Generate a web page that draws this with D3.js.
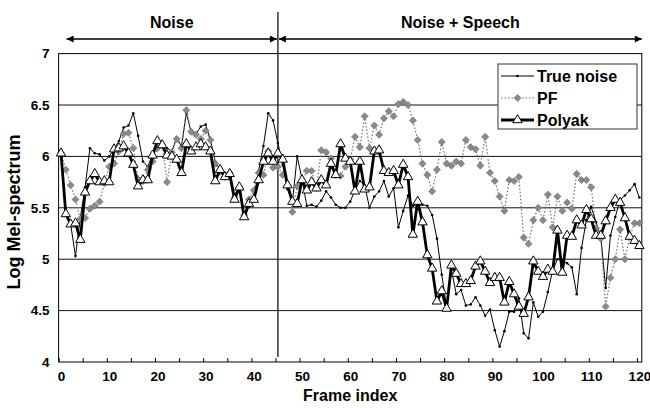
<!DOCTYPE html>
<html>
<head>
<meta charset="utf-8">
<script src="https://cdn.jsdelivr.net/npm/d3@7"></script>
<style>
  body { margin: 0; background: #fff; }
  svg { font-family: "Liberation Sans", Arial, sans-serif; font-weight: bold; }
</style>
</head>
<body>
<svg width="650" height="408"></svg>
<script>
const frames = d3.range(0, 121);

const trueNoise = [
  6.04, 5.46, 5.34, 5.03, 5.40, 5.70, 6.08, 6.03, 6.02, 5.96,
  6.00, 6.07, 6.15, 6.28, 6.30, 6.42, 6.20, 5.95, 5.90, 6.02,
  6.13, 6.13, 6.08, 6.05, 6.18, 6.10, 6.42, 6.24, 6.22, 6.29,
  6.31, 6.16, 5.95, 5.87, 5.81, 5.85, 5.62, 5.72, 5.43, 5.51,
  5.60, 5.86, 6.10, 6.42, 6.35, 6.13, 5.92, 5.68, 5.55, 6.00,
  5.78, 5.52, 5.53, 5.51, 5.57, 5.66, 5.60, 5.53, 5.50, 5.50,
  5.56, 5.67, 5.76, 5.72, 5.50, 5.61, 5.66, 5.76, 5.61, 5.69,
  5.31, 5.47, 5.62, 5.52, 5.52, 5.53, 5.52, 5.43, 5.20, 4.85,
  4.53, 4.90, 4.66, 4.70, 4.55, 4.56, 4.63, 4.55, 4.45, 4.51,
  4.31, 4.15, 4.30, 4.49, 4.49, 4.62, 4.28, 4.23, 4.58, 4.44,
  4.49, 4.68, 4.89, 5.00, 4.99, 4.96, 4.92, 4.66, 5.11, 5.38,
  5.51, 5.36, 5.22, 4.72, 5.23, 5.41, 5.58, 5.62, 5.67, 5.73,
  5.60
];

const pf = [
  6.03, 5.87, 5.72, 5.58, 5.39, 5.40, 5.49, 5.52, 5.56, 5.74,
  5.90, 5.93, 6.05, 6.22, 6.23, 6.08, 5.78, 5.76, 5.87, 5.95,
  6.08, 6.11, 5.75, 6.04, 6.17, 6.08, 6.45, 6.24, 6.21, 6.17,
  6.25, 6.16, 5.93, 5.85, 5.80, 5.84, 5.60, 5.70, 5.43, 5.58,
  5.67, 5.84, 5.82, 6.05, 5.89, 5.90, 5.82, 5.72, 5.46, 5.71,
  5.75, 5.86, 5.86, 5.69, 6.06, 6.04, 5.98, 5.82, 5.81, 5.90,
  5.97, 6.19, 6.09, 6.39, 6.08, 6.30, 6.21, 6.37, 6.44, 6.39,
  6.51, 6.53, 6.50, 6.35, 6.16, 5.93, 5.82, 5.66, 5.87, 6.14,
  5.93, 5.91, 5.95, 5.93, 6.16, 6.09, 6.07, 5.91, 6.19, 5.84,
  5.76, 5.61, 5.47, 5.77, 5.76, 5.80, 5.21, 5.15, 5.38, 5.50,
  5.38, 5.63, 5.31, 5.61, 5.47, 5.55, 5.49, 5.83, 5.77, 5.77,
  5.70, 5.30, 5.20, 4.54, 4.82, 5.00, 5.29, 5.00, 5.22, 5.35,
  5.35
];

const polyak = [
  6.03, 5.44, 5.34, 5.35, 5.19, 5.65, 5.76, 5.83, 5.75, 5.76,
  5.75, 6.07, 6.08, 6.10, 6.03, 5.92, 5.71, 5.77, 5.77, 6.01,
  6.15, 6.11, 6.01, 6.00, 5.97, 5.84, 6.12, 6.05, 6.09, 6.12,
  6.09, 6.05, 5.76, 5.87, 5.80, 5.83, 5.58, 5.70, 5.41, 5.54,
  5.58, 5.77, 5.95, 6.03, 5.95, 6.03, 5.97, 5.72, 5.56, 5.54,
  5.77, 5.67, 5.75, 5.69, 5.77, 5.72, 5.93, 5.82, 6.12, 5.98,
  5.95, 5.66, 5.95, 5.68, 5.70, 6.05, 6.06, 5.86, 5.84, 5.86,
  5.72, 5.92, 5.80, 5.24, 5.56, 5.36, 5.04, 4.91, 4.59, 4.69,
  4.52, 4.94, 4.86, 4.76, 4.76, 4.79, 4.93, 4.98, 4.88, 4.77,
  4.82, 4.82, 4.58, 4.78, 4.66, 4.54, 4.47, 4.63, 4.98, 4.88,
  4.83, 4.90, 4.88, 5.28, 4.87, 5.23, 5.22, 5.38, 5.33, 5.48,
  5.39, 5.23, 5.23, 5.37, 5.50, 5.58, 5.55, 5.40, 5.22, 5.18,
  5.13
];

const yTicks = [4, 4.5, 5, 5.5, 6, 6.5, 7];
const xLabels = [0, 10, 20, 30, 40, 50, 60, 70, 80, 90, 100, 110, 120];
const xTickMarks = d3.range(-0.5, 121, 5);
const splitFrame = 45;
const regions = ["Noise", "Noise + Speech"];

const svg = d3.select("svg");

const x = d3.scaleLinear().domain([-0.5, 120.5]).range([58.6, 641.8]);
const y = d3.scaleLinear().domain([4, 7]).range([362, 53.6]);

// grid lines
svg.append("g")
  .selectAll("line")
  .data(yTicks.slice(1, -1))
  .join("line")
  .attr("x1", x.range()[0]).attr("x2", x.range()[1])
  .attr("y1", d => y(d)).attr("y2", d => y(d))
  .attr("stroke", "#111").attr("stroke-width", 1);

// plot frame
svg.append("rect")
  .attr("x", x.range()[0]).attr("y", y.range()[1])
  .attr("width", x.range()[1] - x.range()[0])
  .attr("height", y.range()[0] - y.range()[1])
  .attr("fill", "none").attr("stroke", "#000").attr("stroke-width", 1);

// y axis labels
const yAxis = svg.append("g")
  .attr("transform", `translate(${x.range()[0]},0)`)
  .call(d3.axisLeft(y).tickValues(yTicks).tickSize(0).tickPadding(9).tickFormat(d3.format("~g")));
yAxis.select(".domain").remove();
yAxis.selectAll("text").attr("font-size", 13.5).attr("font-weight", "bold").attr("fill", "#000");

// x tick marks (pointing inward) and labels
const xTickG = svg.append("g")
  .attr("transform", `translate(0,${y.range()[0]})`)
  .call(d3.axisTop(x).tickValues(xTickMarks).tickSize(4).tickFormat(""));
xTickG.select(".domain").remove();

const xAxis = svg.append("g")
  .attr("transform", `translate(0,${y.range()[0]})`)
  .call(d3.axisBottom(x).tickValues(xLabels).tickSize(0).tickPadding(9));
xAxis.select(".domain").remove();
xAxis.selectAll("text").attr("font-size", 13.5).attr("font-weight", "bold").attr("fill", "#000");

// axis titles
svg.append("text")
  .attr("x", (x.range()[0] + x.range()[1]) / 2).attr("y", 401)
  .attr("text-anchor", "middle").attr("font-size", 16)
  .text("Frame index");

svg.append("text")
  .attr("transform", "translate(20,212) rotate(-90)")
  .attr("text-anchor", "middle").attr("font-size", 18)
  .text("Log Mel-spectrum");

// region divider, arrows and labels
const xs = x(splitFrame);
svg.append("line")
  .attr("x1", xs).attr("x2", xs).attr("y1", 12).attr("y2", 357)
  .attr("stroke", "#000").attr("stroke-width", 1.2);

const defs = svg.append("defs");
defs.append("marker")
  .attr("id", "arrow").attr("viewBox", "0 0 10 10")
  .attr("refX", 10).attr("refY", 5)
  .attr("markerWidth", 9).attr("markerHeight", 7)
  .attr("markerUnits", "userSpaceOnUse")
  .attr("orient", "auto-start-reverse")
  .append("path").attr("d", "M0,0L10,5L0,10Z").attr("fill", "#000");

const arrowY = 39;
const spans = [[x.range()[0] + 8, xs - 1], [xs + 1, x.range()[1]]];
spans.forEach((s, i) => {
  svg.append("line")
    .attr("x1", s[0]).attr("x2", s[1]).attr("y1", arrowY).attr("y2", arrowY)
    .attr("stroke", "#000").attr("stroke-width", 1.5)
    .attr("marker-start", "url(#arrow)").attr("marker-end", "url(#arrow)");
  svg.append("text")
    .attr("x", (s[0] + s[1]) / 2).attr("y", 28)
    .attr("text-anchor", "middle").attr("font-size", 16)
    .text(regions[i]);
});

// series
const line = d3.line().x((d, i) => x(frames[i])).y(d => y(d));

svg.append("path").datum(trueNoise)
  .attr("d", line).attr("fill", "none")
  .attr("stroke", "#000").attr("stroke-width", 1);
svg.append("g").selectAll("circle").data(trueNoise).join("circle")
  .attr("cx", (d, i) => x(frames[i])).attr("cy", d => y(d))
  .attr("r", 1.3).attr("fill", "#000");

svg.append("path").datum(pf)
  .attr("d", line).attr("fill", "none")
  .attr("stroke", "#707070").attr("stroke-width", 1.2)
  .attr("stroke-dasharray", "1.5,2");
const diamond = d3.symbol().type(d3.symbolDiamond2).size(32);
svg.append("g").selectAll("path").data(pf).join("path")
  .attr("d", diamond)
  .attr("transform", (d, i) => `translate(${x(frames[i])},${y(d)})`)
  .attr("fill", "#8a8a8a").attr("stroke", "#6a6a6a").attr("stroke-width", 0.6);

svg.append("path").datum(polyak)
  .attr("d", line).attr("fill", "none")
  .attr("stroke", "#000").attr("stroke-width", 2.8)
  .attr("stroke-linejoin", "round");
const tri = d3.symbol().type(d3.symbolTriangle).size(38);
svg.append("g").selectAll("path").data(polyak).join("path")
  .attr("d", tri)
  .attr("transform", (d, i) => `translate(${x(frames[i])},${y(d)})`)
  .attr("fill", "#fff").attr("stroke", "#000").attr("stroke-width", 1);

// legend
const legend = svg.append("g").attr("transform", "translate(498,64)");
legend.append("rect")
  .attr("width", 139).attr("height", 65)
  .attr("fill", "#fff").attr("stroke", "#333").attr("stroke-width", 1);
const items = [
  {name: "True noise", stroke: "#000", w: 1, dash: null, mark: "dot"},
  {name: "PF", stroke: "#707070", w: 1.2, dash: "1.5,2", mark: "diamond"},
  {name: "Polyak", stroke: "#000", w: 2.8, dash: null, mark: "tri"}
];
items.forEach((it, i) => {
  const g = legend.append("g").attr("transform", `translate(0,${12 + i * 22})`);
  g.append("line").attr("x1", 3).attr("x2", 36)
    .attr("stroke", it.stroke).attr("stroke-width", it.w)
    .attr("stroke-dasharray", it.dash);
  if (it.mark === "dot") {
    g.append("circle").attr("cx", 19.5).attr("r", 1.3).attr("fill", "#000");
  } else if (it.mark === "diamond") {
    g.append("path").attr("d", diamond).attr("transform", "translate(19.5,0)")
      .attr("fill", "#8a8a8a").attr("stroke", "#6a6a6a").attr("stroke-width", 0.6);
  } else {
    g.append("path").attr("d", tri).attr("transform", "translate(19.5,0)")
      .attr("fill", "#fff").attr("stroke", "#000").attr("stroke-width", 1);
  }
  g.append("text").attr("x", 39).attr("dy", "0.35em")
    .attr("font-size", 16).text(it.name);
});
</script>
</body>
</html>
